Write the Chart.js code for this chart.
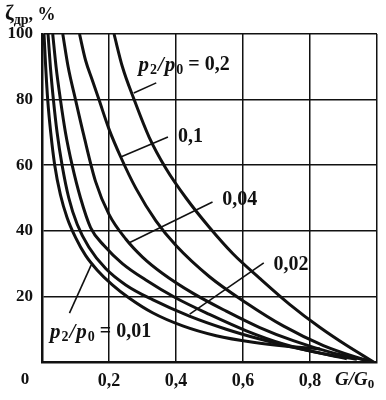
<!DOCTYPE html>
<html>
<head>
<meta charset="utf-8">
<script src="https://cdn.jsdelivr.net/npm/chart.js@4"></script>
<style>
  html, body { margin: 0; padding: 0; background: #fff; }
  #wrap { width: 386px; height: 400px; }
</style>
</head>
<body>
<div id="wrap"><canvas id="grafico"></canvas></div>
<script>
// valores: G/G0 y ζдр (%) de cada curva
const g_02 = [0.215, 0.24, 0.275, 0.32, 0.37, 0.43, 0.5, 0.57, 0.65, 0.74, 0.83, 0.91, 0.99];
const z_02 = [100, 90, 80, 68.5, 59, 50, 41, 33, 25.5, 17.5, 10.5, 5, 0];

const g_01 = [0.112, 0.13, 0.15, 0.17, 0.2, 0.235, 0.28, 0.34, 0.4, 0.5, 0.61, 0.72, 0.84, 0.98];
const z_01 = [100, 92, 86, 80, 71, 62.5, 53, 43, 35.5, 26, 18, 11, 5, 0];

const g_004 = [0.062, 0.078, 0.1, 0.125, 0.16, 0.2, 0.25, 0.3, 0.36, 0.45, 0.55, 0.65, 0.75, 0.86, 0.97];
const z_004 = [100, 90, 80, 69, 55, 45, 37.5, 32, 27, 21, 15.5, 10.5, 6.5, 3, 0.5];

const g_003 = [0.032, 0.042, 0.055, 0.07, 0.09, 0.115, 0.145, 0.185, 0.24, 0.31, 0.4, 0.5, 0.61, 0.72, 0.84, 0.94];
const z_003 = [100, 90, 80, 70, 60, 50, 41, 35.5, 30, 25, 19.5, 14.5, 9.5, 5.5, 2.5, 0.8];

const g_002 = [0.018, 0.025, 0.034, 0.045, 0.06, 0.08, 0.105, 0.14, 0.19, 0.25, 0.33, 0.44, 0.55, 0.65, 0.77, 0.91];
const z_002 = [100, 90, 80, 70, 60, 50, 42, 35, 28.5, 23.5, 19, 14, 10, 7, 4, 1];

const g_001 = [0.006, 0.011, 0.017, 0.026, 0.038, 0.055, 0.075, 0.1, 0.13, 0.165, 0.21, 0.26, 0.33, 0.42, 0.52, 0.63, 0.73, 0.83];
const z_001 = [100, 90, 80, 70, 60, 51, 44, 38, 32.5, 28, 23.5, 19.5, 15, 11, 8, 6, 4.8, 4];

const xTicks = [0, 0.2, 0.4, 0.6, 0.8, 1];
const xLabels = ['', '0,2', '0,4', '0,6', '0,8', ''];
const yTicks = [0, 20, 40, 60, 80, 100];

function puntos(gs, zs) {
    return gs.map((g, i) => ({ x: g, y: zs[i] }));
}

function curva(nombre, gs, zs) {
    return {
        label: nombre,
        data: puntos(gs, zs),
        showLine: true,
        borderColor: '#111',
        borderWidth: 3,
        pointRadius: 0,
        cubicInterpolationMode: 'monotone',
        fill: false
    };
}

const serif = '"Liberation Serif", "DejaVu Serif", serif';

// escribe un texto con partes (texto, fuente, desplazamiento vertical, espacio extra)
function escribir(ctx, x, y, partes) {
    var cx = x;
    partes.forEach(p => {
        ctx.font = p[1];
        ctx.fillText(p[0], cx, y + (p[2] || 0));
        cx += ctx.measureText(p[0]).width + (p[3] || 0);
    });
}

function etiquetaP(valor) {
    return [
        ['p', 'italic bold 21px ' + serif, 0, 1],
        ['2', 'bold 14px ' + serif, 5, 1],
        ['/', 'italic bold 21px ' + serif, 0, 1],
        ['p', 'italic bold 21px ' + serif, 0, 1],
        ['0', 'bold 14px ' + serif, 5, 0],
        [' = ' + valor, 'bold 20px ' + serif]
    ];
}

// rótulos de las curvas: texto y línea de referencia (en unidades de datos)
const rotulos = [
    { texto: etiquetaP('0,2'), en: [0.288, 90.5], linea: [[0.341, 85.1], [0.274, 82.0]] },
    { texto: [['0,1', 'bold 20px ' + serif]], en: [0.406, 68.6], linea: [[0.376, 68.6], [0.235, 62.5]] },
    { texto: [['0,04', 'bold 20px ' + serif]], en: [0.538, 49.4], linea: [[0.509, 48.8], [0.259, 36.3]] },
    { texto: [['0,02', 'bold 20px ' + serif]], en: [0.691, 29.6], linea: [[0.662, 30.2], [0.441, 14.6]] },
    { texto: etiquetaP('0,01'), en: [0.024, 9.1], linea: [[0.082, 14.9], [0.147, 29.6]] }
];

const plugRotulos = {
    id: 'rotulos',
    afterDatasetsDraw(chart) {
        const ctx = chart.ctx;
        const sx = chart.scales.x, sy = chart.scales.y;
        ctx.save();
        ctx.fillStyle = '#111';
        ctx.strokeStyle = '#111';
        ctx.lineWidth = 1.6;
        ctx.textBaseline = 'middle';
        rotulos.forEach(r => {
            ctx.beginPath();
            ctx.moveTo(sx.getPixelForValue(r.linea[0][0]), sy.getPixelForValue(r.linea[0][1]));
            ctx.lineTo(sx.getPixelForValue(r.linea[1][0]), sy.getPixelForValue(r.linea[1][1]));
            ctx.stroke();
            escribir(ctx, sx.getPixelForValue(r.en[0]), sy.getPixelForValue(r.en[1]), r.texto);
        });

        // títulos de los ejes y el cero común
        escribir(ctx, 5, 15, [
            ['ζ', 'bold 21px ' + serif],
            ['др', 'bold 14px ' + serif, 5],
            [', %', 'bold 18px ' + serif]
        ]);
        escribir(ctx, 335, 380, [
            ['G', 'italic bold 19px ' + serif],
            ['/', 'italic bold 19px ' + serif],
            ['G', 'italic bold 19px ' + serif],
            ['0', 'bold 13px ' + serif, 5]
        ]);
        ctx.font = 'bold 17px ' + serif;
        ctx.textAlign = 'center';
        ctx.fillText('0', 25, sy.bottom + 18);
        ctx.restore();
    }
};

var ctx = document.getElementById('grafico').getContext('2d');
var myChart = new Chart(ctx, {
    type: 'scatter',
    data: {
        datasets: [
            curva('0,2', g_02, z_02),
            curva('0,1', g_01, z_01),
            curva('0,04', g_004, z_004),
            curva('0,03', g_003, z_003),
            curva('0,02', g_002, z_002),
            curva('0,01', g_001, z_001)
        ]
    },
    options: {
        responsive: true,
        maintainAspectRatio: false,
        animation: false,
        layout: { padding: { left: 0, right: 4, top: 34, bottom: 0 } },
        plugins: { legend: { display: false }, tooltip: { enabled: false } },
        scales: {
            x: {
                type: 'linear',
                min: 0,
                max: 1,
                afterBuildTicks: s => { s.ticks = xTicks.map(v => ({ value: v })); },
                afterFit: s => { s.height = 38; },
                ticks: {
                    color: '#111',
                    padding: 9,
                    font: { family: serif, size: 18, weight: 'bold' },
                    callback: (v) => xLabels[xTicks.indexOf(v)] ?? ''
                },
                grid: { color: '#111', lineWidth: 1.5, drawTicks: false },
                border: { color: '#111', width: 2.5 }
            },
            y: {
                min: 0,
                max: 100,
                afterBuildTicks: s => { s.ticks = yTicks.map(v => ({ value: v })); },
                afterFit: s => { s.width = 42; },
                ticks: {
                    color: '#111',
                    padding: 9,
                    font: { family: serif, size: 17, weight: 'bold' },
                    callback: (v) => v === 0 ? '' : String(v)
                },
                grid: { color: '#111', lineWidth: 1.5, drawTicks: false },
                border: { color: '#111', width: 2.5 }
            }
        }
    },
    plugins: [plugRotulos]
});
</script>
</body>
</html>
